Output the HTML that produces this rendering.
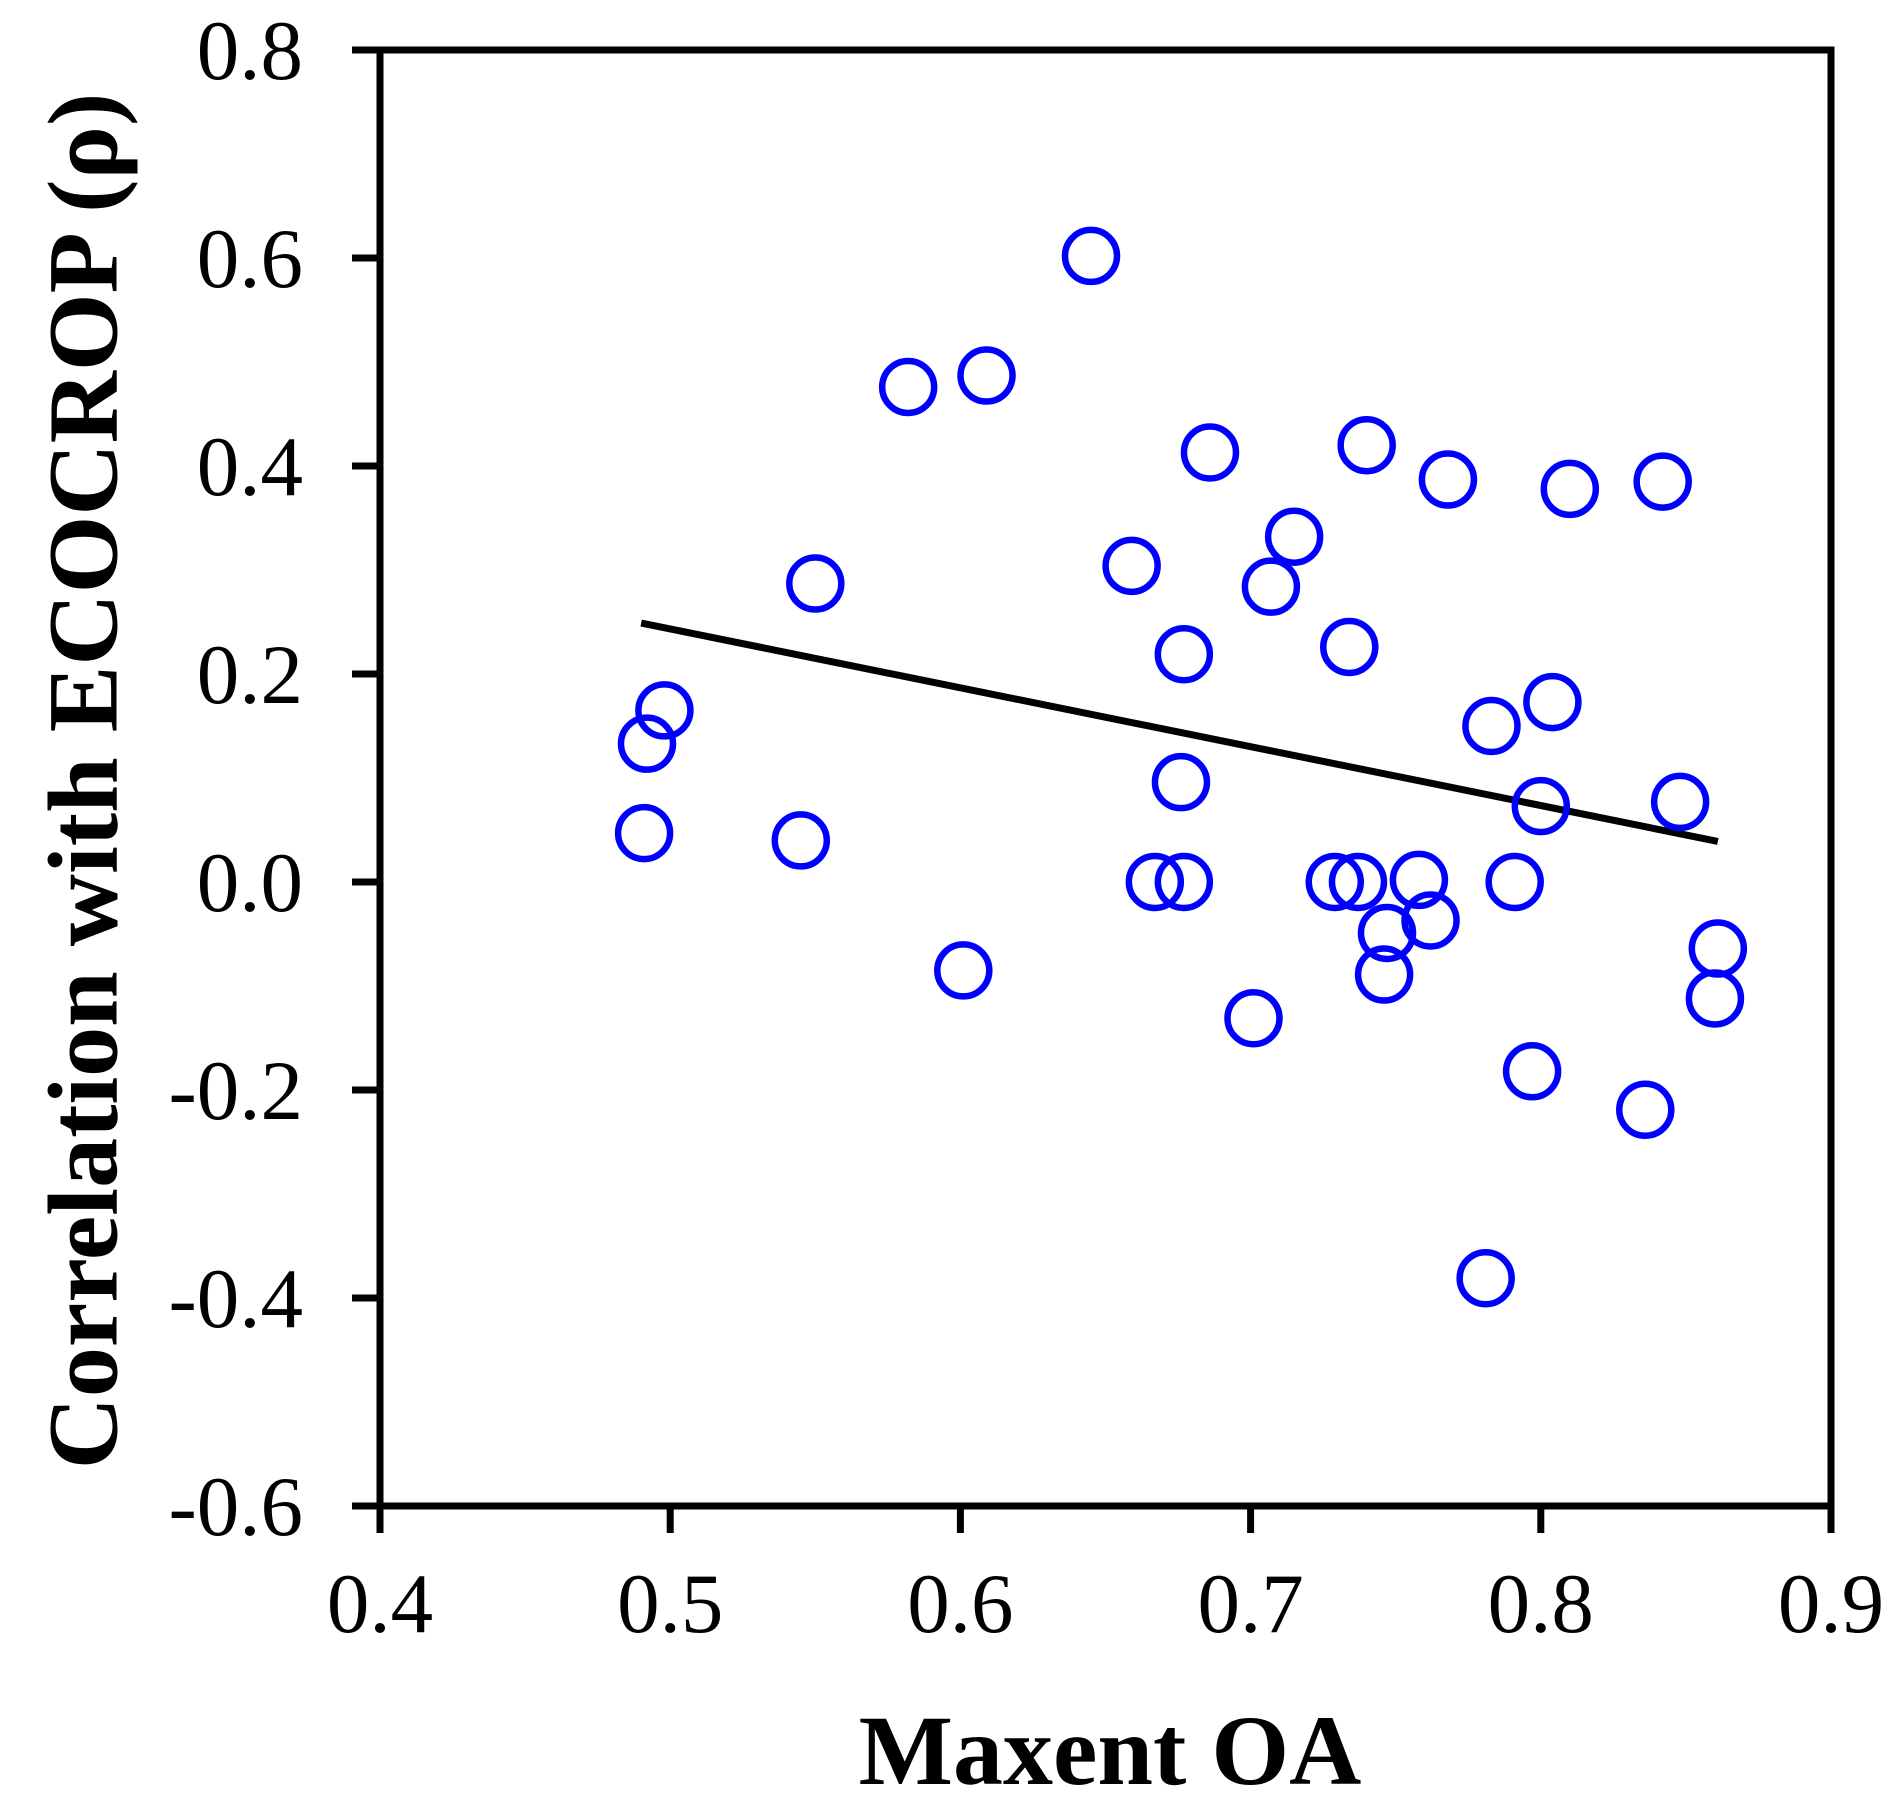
<!DOCTYPE html>
<html><head><meta charset="utf-8"><style>
html,body{margin:0;padding:0;background:#fff}
svg text{font-family:"Liberation Serif",serif;fill:#000}
</style></head><body>
<svg width="1904" height="1799" viewBox="0 0 1904 1799" xmlns="http://www.w3.org/2000/svg">
<g id="axes"></g><g id="marks"></g>
<text x="83" y="781" font-size="100" font-weight="bold" text-anchor="middle" dominant-baseline="central" transform="rotate(-90 83 781)">Correlation with ECOCROP (ρ)</text>
<text x="1110" y="1784" font-size="100" font-weight="bold" text-anchor="middle">Maxent OA</text>
</svg>
<script>
const xTicks=[0.4,0.5,0.6,0.7,0.8,0.9];
const yTicks=[0.8,0.6,0.4,0.2,0.0,-0.2,-0.4,-0.6];
const xTickLabels=["0.4","0.5","0.6","0.7","0.8","0.9"];
const yTickLabels=["0.8","0.6","0.4","0.2","0.0","-0.2","-0.4","-0.6"];
const xValues=[0.492,0.498,0.491,0.545,0.550,0.582,0.609,0.601,0.645,0.659,0.677,0.676,0.667,0.677,0.686,0.701,0.707,0.715,0.729,0.737,0.734,0.740,0.747,0.746,0.758,0.762,0.768,0.783,0.781,0.791,0.804,0.800,0.797,0.810,0.836,0.842,0.848,0.861,0.860];
const yValues=[0.133,0.165,0.047,0.040,0.287,0.476,0.487,-0.085,0.602,0.304,0.219,0.096,0.0,0.0,0.413,-0.131,0.284,0.332,0.0,0.0,0.226,0.420,-0.049,-0.089,0.002,-0.037,0.387,0.150,-0.381,0.0,0.173,0.073,-0.182,0.378,-0.219,0.385,0.077,-0.064,-0.112];
const trendX=[0.490,0.861];
const trendY=[0.249,0.039];
const NS="http://www.w3.org/2000/svg";
const X0=380,X1=1831,Y0=50,Y1=1506;
const sx=v=>X0+(v-0.4)/0.5*(X1-X0);
const sy=v=>Y0+(0.8-v)/1.4*(Y1-Y0);
function mk(tag,attrs,parent){const e=document.createElementNS(NS,tag);for(const k in attrs)e.setAttribute(k,attrs[k]);parent.appendChild(e);return e;}
const axes=document.getElementById('axes'),marks=document.getElementById('marks');
const frame=mk('rect',{x:X0,y:Y0,width:X1-X0,height:Y1-Y0,fill:'none',stroke:'#000','stroke-width':7},axes);


xTicks.forEach((t,i)=>{
 const l=mk('line',{x1:sx(t),x2:sx(t),y1:Y1,y2:Y1+27,stroke:'#000','stroke-width':7},axes);
 
 
 const tx=mk('text',{x:sx(t),y:1632,'font-size':85,'text-anchor':'middle'},axes);
 tx.textContent=xTickLabels[i];
 
 
});
yTicks.forEach((t,i)=>{
 const l=mk('line',{x1:X0-28,x2:X0,y1:sy(t),y2:sy(t),stroke:'#000','stroke-width':7},axes);
 
 
 const tx=mk('text',{x:303,y:sy(t)+29,'font-size':85,'text-anchor':'end'},axes);
 tx.textContent=yTickLabels[i];
 
 
});
const tl=mk('line',{x1:sx(trendX[0]),y1:sy(trendY[0]),x2:sx(trendX[1]),y2:sy(trendY[1]),stroke:'#000','stroke-width':7},marks);


xValues.forEach((x,i)=>{
 const c=mk('circle',{cx:sx(x),cy:sy(yValues[i]),r:26,fill:'none',stroke:'#0000ff','stroke-width':6.5},marks);
 
 
});
</script>
</body></html>
